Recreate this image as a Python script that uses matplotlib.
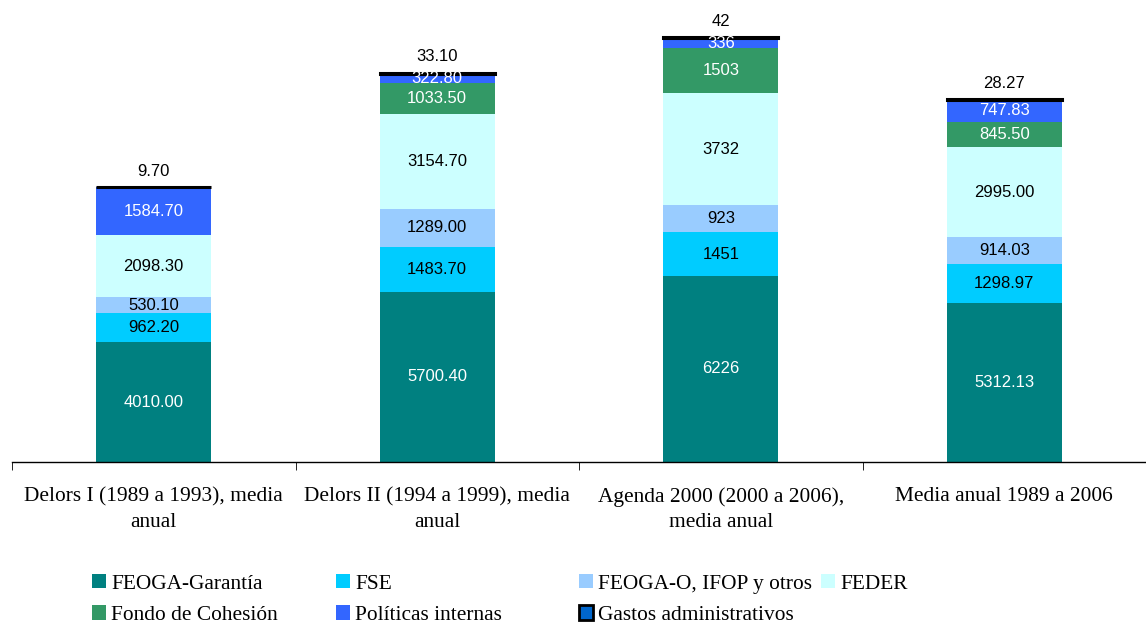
import numpy as np
import matplotlib.pyplot as plt

categorias = ["Delors I (1989 a 1993), media\nanual",
              "Delors II (1994 a 1999), media\nanual",
              "Agenda 2000 (2000 a 2006),\nmedia anual",
              "Media anual 1989 a 2006"]

series = ["FEOGA-Garantía", "FSE", "FEOGA-O, IFOP y otros", "FEDER",
          "Fondo de Cohesión", "Políticas internas", "Gastos administrativos"]

feoga_g = [4010.00, 5700.40, 6226, 5312.13]
fse = [962.20, 1483.70, 1451, 1298.97]
feoga_o = [530.10, 1289.00, 923, 914.03]
feder = [2098.30, 3154.70, 3732, 2995.00]
cohesion = [0, 1033.50, 1503, 845.50]
politicas = [1584.70, 322.80, 336, 747.83]
gastos = [9.70, 33.10, 42, 28.27]

etiquetas = [
    ["4010.00", "5700.40", "6226", "5312.13"],
    ["962.20", "1483.70", "1451", "1298.97"],
    ["530.10", "1289.00", "923", "914.03"],
    ["2098.30", "3154.70", "3732", "2995.00"],
    ["", "1033.50", "1503", "845.50"],
    ["1584.70", "322.80", "336", "747.83"],
    ["9.70", "33.10", "42", "28.27"],
]

colores = ["#008080", "#00CCFF", "#99CCFF", "#CCFFFF", "#339966", "#3366FF", "#0066CC"]
color_texto = ["white", "black", "black", "black", "white", "white", "black"]

valores = [feoga_g, fse, feoga_o, feder, cohesion, politicas, gastos]

fig = plt.figure(figsize=(11.46, 6.25), dpi=100)
ax = fig.add_axes([12 / 1146, 1 - 462 / 625, 1134 / 1146, 462 / 625])

x = np.arange(len(categorias))
ancho = 0.405
base = np.zeros(len(categorias))
handles = []
for i, (nombre, vals) in enumerate(zip(series, valores)):
    vals = np.array(vals, dtype=float)
    if nombre == "Gastos administrativos":
        ax.bar(x, vals, ancho, bottom=base, color="black", edgecolor="black",
               linewidth=2.2, label=nombre)
        for j in range(len(x)):
            ax.annotate(etiquetas[i][j], (x[j], base[j] + vals[j]), xytext=(0, 6),
                        textcoords="offset points", ha="center", va="bottom",
                        fontsize=12, family="Liberation Sans", color="black")
        h = plt.Rectangle((0, 0), 1, 1, facecolor=colores[i], edgecolor="black", linewidth=2)
    else:
        ax.bar(x, vals, ancho, bottom=base, color=colores[i], label=nombre)
        for j in range(len(x)):
            if vals[j] > 0:
                ax.text(x[j], base[j] + vals[j] / 2, etiquetas[i][j], ha="center",
                        va="center", fontsize=12, family="Liberation Sans",
                        color=color_texto[i])
        h = plt.Rectangle((0, 0), 1, 1, facecolor=colores[i], edgecolor="none")
    handles.append(h)
    base = base + vals

ax.set_xlim(-0.5, 3.5)
ax.set_ylim(0, 15450)
ax.set_yticks([])
for s in ["top", "right", "left"]:
    ax.spines[s].set_visible(False)
ax.spines["bottom"].set_linewidth(1)
ax.set_xticks(x)
ax.set_xticklabels(categorias, family="Liberation Serif", fontsize=15.4, linespacing=1.45)
ax.tick_params(axis="x", which="major", length=0, pad=18)
ax.set_xticks(np.arange(-0.5, 4, 1), minor=True)
ax.tick_params(axis="x", which="minor", length=6, direction="out")

# legend: one column at a time so the columns sit where they do in the original
columnas = [[0, 4], [1, 5], [2, 6], [3]]
pos_x = [92, 336, 579, 821]
for col, px in zip(columnas, pos_x):
    fig.legend([handles[k] for k in col], [series[k] for k in col],
               loc="upper left", bbox_to_anchor=(px / 1146, 1 - 574 / 625),
               frameon=False, prop={"family": "Liberation Serif", "size": 15.4},
               handlelength=0.65, handleheight=0.65, handletextpad=0.25,
               labelspacing=0.55, borderaxespad=0, borderpad=0)

fig.savefig("out.png", dpi=100)
